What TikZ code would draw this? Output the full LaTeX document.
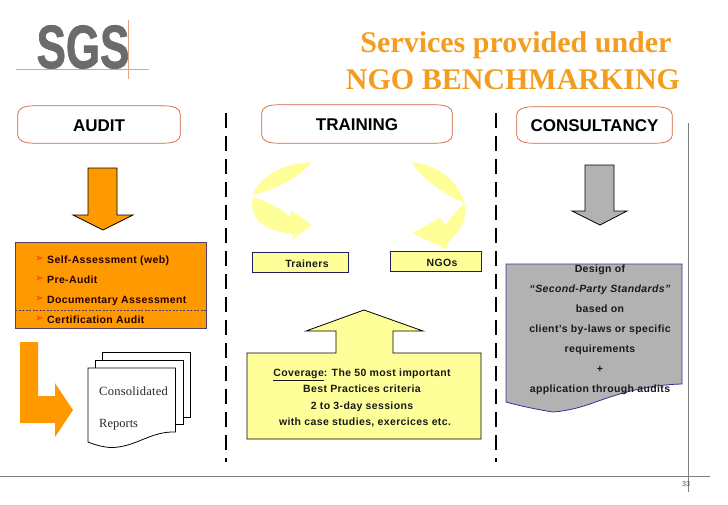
\documentclass[tikz,border=0pt]{standalone}
\usepackage{fontspec}
\setmainfont{Liberation Sans}
\newfontfamily\serifface{Liberation Serif}
\newfontfamily\dingface{DejaVu Sans}
\definecolor{orangeA}{HTML}{FF9900}
\definecolor{titleC}{HTML}{F39C1E}
\definecolor{yellowA}{HTML}{FFFF99}
\definecolor{grayA}{HTML}{B2B2B2}
\definecolor{redline}{HTML}{D2603A}
\definecolor{logoline}{HTML}{E8A080}
\definecolor{navyline}{HTML}{333399}
\definecolor{boxline}{HTML}{55406A}
\newcommand{\headedge}[1]{%
  \draw[redline,line width=0.7pt] ([yshift=-8pt]#1.north west) .. controls ([yshift=-3pt]#1.north west) and ([xshift=6pt]#1.north west) .. ([xshift=16pt]#1.north west)
    -- ([xshift=-16pt]#1.north east) .. controls ([xshift=-6pt]#1.north east) and ([yshift=-3pt]#1.north east) .. ([yshift=-8pt]#1.north east)
    -- ([yshift=8pt]#1.south east) .. controls ([yshift=3pt]#1.south east) and ([xshift=-6pt]#1.south east) .. ([xshift=-16pt]#1.south east)
    -- ([xshift=16pt]#1.south west) .. controls ([xshift=6pt]#1.south west) and ([yshift=3pt]#1.south west) .. ([yshift=8pt]#1.south west) -- cycle;}
\tikzset{
  headbox/.style={inner sep=0pt,text height=15pt,text depth=2pt,font=\bfseries\fontsize{17}{19}\selectfont},
  blockarrow/.style={draw=black,line width=0.8pt,line join=miter},
  sep/.style={draw=black,line width=1.7pt,dash pattern=on 15pt off 8pt},
  rule/.style={draw=black!50,line width=0.8pt},
  bodytxt/.style={font=\bfseries\fontsize{10.5}{12}\selectfont,inner sep=0pt,text=black!90,text height=10pt,text depth=2pt},
  bullet/.style={font=\dingface\fontsize{10}{11}\selectfont,text=red!65!orange,inner sep=0pt},
  sheet/.style={draw=black,line width=0.8pt,fill=white},
  yellowbox/.style={draw=navyline!60!black,line width=0.8pt,fill=yellowA,inner sep=0pt},
  serifsheet/.style={font=\serifface\fontsize{12.5}{14}\selectfont,inner sep=0pt,anchor=base west,text=black!85},
  titletxt/.style={font=\serifface\bfseries\fontsize{30}{33}\selectfont,text=titleC,inner sep=0pt}
}
\begin{document}
\begin{tikzpicture}[x=1pt,y=-1pt]
\useasboundingbox (0,0) rectangle (728,504);
% logo
\node[inner sep=0pt,text=black!58] (logo) at (83,47) {\scalebox{0.72}[1]{\bfseries\fontsize{61}{61}\selectfont\addfontfeatures{FakeBold=1.5}SGS}};
\coordinate (lh1) at (16,69); \coordinate (lh2) at (149,69);
\coordinate (lv1) at (128,20); \coordinate (lv2) at (128,79);
\draw[logoline,line width=0.8pt] (lh1)--(lh2) (lv1)--(lv2);
% title
\node[titletxt] (t1) at (516,45) {Services provided under};
\node[titletxt] (t2) at (513,80) {NGO BENCHMARKING};
% heads
\node[headbox,minimum width=162pt,minimum height=37pt] (audit) at (99,124.5) {AUDIT};
\node[headbox,minimum width=190pt,minimum height=38pt] (training) at (357,124) {TRAINING};
\node[headbox,minimum width=155pt,minimum height=36pt] (consult) at (594.5,125) {CONSULTANCY};
\headedge{audit}\headedge{training}\headedge{consult}
% separators
\coordinate (s1a) at (226,113); \coordinate (s1b) at (226,462);
\coordinate (s2a) at (496,113); \coordinate (s2b) at (496,462);
\draw[sep] (s1a)--(s1b);
\draw[sep] (s2a)--(s2b);
% rules
\coordinate (r1) at (0,476); \coordinate (r2) at (710,476);
\coordinate (r3) at (688.5,123); \coordinate (r4) at (688.5,492);
\draw[rule] (r1)--(r2) (r3)--(r4);
\node[inner sep=0pt,font=\fontsize{7}{8}\selectfont,text=black!70] (page) at (686,484.5) {33};
% audit arrow
\draw[blockarrow,fill=orangeA] (88,168)--(117,168)--(117,215)--(133,215)--(103,230)--(73,215)--(88,215)--cycle;
% audit box
\node[draw=boxline,line width=0.8pt,fill=orangeA,minimum width=191pt,minimum height=86pt,inner sep=0pt] (abox) at (110.5,285) {};
\coordinate (d1) at (15,310); \coordinate (d2) at (205.5,310);
\draw[draw=boxline,line width=0.5pt,dash pattern=on 2pt off 1.5pt] (d1)--(d2);
\foreach \yy/\tt in {259/Self-Assessment (web),279/Pre-Audit,299/Documentary Assessment,319/Certification Audit}{
  \node[bullet] at (39.5,\yy) {➢};
  \node[bodytxt,anchor=west,text=black!85!red] at (47,\yy) {\addfontfeatures{LetterSpace=3.5}\tt};
}
% L arrow
\fill[orangeA] (20,342)--(38,342)--(38,396)--(55,396)--(55,383)--(73,410)--(55,437)--(55,423)--(20,423)--cycle;
% docs
\draw[sheet] (102,352) rectangle (190,417);
\draw[sheet] (95,360) rectangle (183,424);
\draw[sheet] (88,368)--(175.5,368)--(175.5,432) .. controls (150,431) and (135,448) .. (110,447.5) .. controls (103,447) and (95,445) .. (88,442)--cycle;
\node[serifsheet] (c1) at (99,395) {\addfontfeatures{LetterSpace=2}Consolidated};
\node[serifsheet] (c2) at (99,427) {Reports};
% yellow curved arrows
\begin{scope}[shift={(220,90)},scale=0.33333]
\fill[yellowA] (275,217) .. controls (200,218) and (125,250) .. (98,315)
  .. controls (160,300) and (230,270) .. (275,217)--cycle;
\fill[yellowA] (98,320) .. controls (160,345) and (190,360) .. (210,380) -- (215,362) -- (275,405) -- (215,450) -- (220,432)
  .. controls (150,425) and (85,400) .. (98,320)--cycle;
\fill[yellowA] (575,217) .. controls (640,222) and (710,260) .. (733,340)
  .. controls (670,310) and (610,270) .. (575,217)--cycle;
\fill[yellowA] (733,340) .. controls (705,365) and (690,385) .. (677,405) -- (660,383) -- (577,430) -- (680,478) -- (683,458)
  .. controls (710,435) and (745,400) .. (733,340)--cycle;
\end{scope}
% small boxes
\node[yellowbox,minimum width=96pt,minimum height=20pt] (trn) at (300,262) {};
\node[bodytxt,anchor=center] (trnt) at (307,263) {\addfontfeatures{LetterSpace=3.5}Trainers};
\node[yellowbox,minimum width=91pt,minimum height=20.5pt] (ngo) at (435.5,261.5) {};
\node[bodytxt,anchor=center] (ngot) at (442,262) {\addfontfeatures{LetterSpace=3.5}NGOs};
% coverage arrow-box
\draw[blockarrow,fill=yellowA] (247,353)--(336,353)--(336,331)--(306,331)--(364,310)--(423,331)--(393,331)--(393,353)--(481,353)--(481,439)--(247,439)--cycle;
\node[bodytxt] (v1) at (362,372.5) {\addfontfeatures{LetterSpace=3.5}\underline{Coverage}: The 50 most important};
\node[bodytxt] (v2) at (362,388.5) {\addfontfeatures{LetterSpace=3.5}Best Practices criteria};
\node[bodytxt] (v3) at (362,405) {\addfontfeatures{LetterSpace=3.5}2 to 3-day sessions};
\node[bodytxt] (v4) at (365,421) {\addfontfeatures{LetterSpace=3.5}with case studies, exercices etc.};
% consultancy arrow
\draw[blockarrow,fill=grayA] (585,165)--(614,165)--(614,211)--(627,211)--(600,225)--(572,211)--(585,211)--cycle;
% gray document
\draw[draw=navyline,line width=0.8pt,fill=grayA] (506,264)--(682,264)--(682,384) .. controls (640,385) and (610,397) .. (590,404) .. controls (575,409) and (565,411) .. (553,412) .. controls (540,410) and (520,406) .. (506,402)--cycle;
\foreach \nn/\yy/\tt in {g1/268/Design of,g2/288/{\itshape “Second-Party Standards”},g3/308/based on,g4/328/client's by-laws or specific,g5/348/requirements,g6/368/+,g7/388/application through audits}{
  \node[bodytxt] (\nn) at (600,\yy) {\addfontfeatures{LetterSpace=3.5}\tt};
}
\end{tikzpicture}
\end{document}
